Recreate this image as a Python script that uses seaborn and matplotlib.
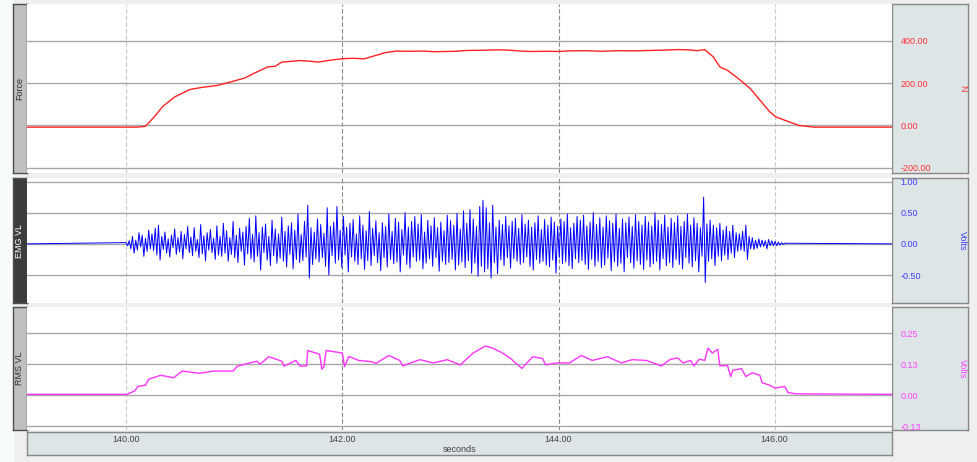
import numpy as np
import matplotlib
matplotlib.use("Agg")
import matplotlib.pyplot as plt
import seaborn as sns

sns.set_style("white")
plt.rcParams['font.family'] = ['Liberation Sans', 'DejaVu Sans']

# ---- data ----
X_MIN, X_MAX = 139.082, 147.084
x_ticks = [140, 142, 144, 146]
x_tick_labels = ["140.00", "142.00", "144.00", "146.00"]

# Force (N)
force_t = [139.082, 140.10, 140.18, 140.26, 140.34, 140.45, 140.59, 140.70, 140.84, 140.99,
           141.10, 141.18, 141.31, 141.38, 141.44, 141.52, 141.61, 141.70, 141.78, 141.88,
           142.00, 142.10, 142.20, 142.30, 142.40, 142.50, 142.60, 142.75, 142.85, 142.95,
           143.05, 143.15, 143.30, 143.45, 143.55, 143.65, 143.75, 143.90, 144.00, 144.10,
           144.25, 144.40, 144.55, 144.70, 144.85, 145.00, 145.10, 145.20, 145.28, 145.35,
           145.43, 145.49, 145.56, 145.68, 145.77, 145.86, 145.95, 146.01, 146.13, 146.22,
           146.36, 147.084]
force_n = [-8, -8, -4, 40, 90, 135, 170, 180, 189, 209,
           225, 246, 277, 280, 300, 303, 307, 304, 300, 308,
           316, 318, 315, 330, 345, 352, 351, 352, 349, 350,
           351, 355, 356, 358, 356, 352, 350, 351, 350, 353,
           354, 351, 354, 353, 355, 357, 359, 358, 354, 359,
           324, 277, 261, 214, 175, 120, 65, 40, 17, 0,
           -8, -8]
force_ticks = [400, 200, 0, -200]
force_tick_labels = ["400.00", "200.00", "0.00", "-200.00"]

# EMG VL (volts), sampled every 0.015 s from 140.00 s
EMG_START = 140.0
EMG_DT = 0.015
emg_v = [
    0.02, -0.03, 0.05, -0.08, 0.12, -0.15, 0.06, -0.10, 0.18, -0.05, 0.14, -0.20, 0.09, -0.12, 0.22, -0.08, 0.16, -0.11, 0.25, -0.18,
    0.30, -0.26, 0.12, -0.09, 0.19, -0.15, 0.08, -0.21, 0.14, -0.06, 0.24, -0.17, 0.10, -0.13, 0.20, -0.24, 0.15, -0.08, 0.28, -0.14,
    0.11, -0.19, 0.26, -0.12, 0.07, -0.22, 0.31, -0.16, 0.13, -0.27, 0.18, -0.10, 0.23, -0.14, 0.09, -0.25, 0.29, -0.18, 0.12, -0.20,
    0.33, -0.15, 0.21, -0.28, 0.10, -0.17, 0.36, -0.22, 0.14, -0.30, 0.25, -0.12, 0.19, -0.34, 0.28, -0.16, 0.41, -0.24, 0.15, -0.29,
    0.45, -0.20, 0.18, -0.42, 0.27, -0.14, 0.32, -0.26, 0.12, -0.35, 0.38, -0.19, 0.24, -0.31, 0.16, -0.23, 0.43, -0.28, 0.20, -0.37,
    0.29, -0.17, 0.34, -0.40, 0.22, -0.25, 0.48, -0.30, 0.15, -0.27, 0.36, -0.21, 0.62, -0.55, 0.26, -0.33, 0.19, -0.24, 0.40, -0.29,
    0.31, -0.22, 0.17, -0.36, 0.58, -0.50, 0.28, -0.19, 0.35, -0.31, 0.60, -0.26, 0.22, -0.38, 0.44, -0.18, 0.27, -0.45, 0.33, -0.21,
    0.39, -0.28, 0.16, -0.33, 0.45, -0.24, 0.30, -0.41, 0.21, -0.27, 0.52, -0.35, 0.25, -0.19, 0.37, -0.30, 0.18, -0.43, 0.34, -0.22,
    0.28, -0.37, 0.48, -0.25, 0.20, -0.32, 0.41, -0.29, 0.35, -0.45, 0.23, -0.18, 0.50, -0.33, 0.27, -0.39, 0.36, -0.21, 0.44, -0.28,
    0.32, -0.26, 0.47, -0.40, 0.19, -0.31, 0.38, -0.24, 0.29, -0.36, 0.42, -0.22, 0.26, -0.44, 0.35, -0.28, 0.21, -0.33, 0.46, -0.30,
    0.37, -0.25, 0.30, -0.42, 0.49, -0.34, 0.24, -0.29, 0.53, -0.38, 0.33, -0.27, 0.55, -0.47, 0.40, -0.31, 0.28, -0.52, 0.60, -0.36,
    0.70, -0.45, 0.58, -0.40, 0.34, -0.55, 0.62, -0.30, 0.27, -0.48, 0.38, -0.26, 0.31, -0.35, 0.44, -0.22, 0.29, -0.39, 0.36, -0.24,
    0.41, -0.28, 0.25, -0.33, 0.47, -0.30, 0.32, -0.21, 0.38, -0.36, 0.27, -0.42, 0.34, -0.25, 0.45, -0.31, 0.23, -0.28, 0.39, -0.34,
    0.30, -0.37, 0.43, -0.26, 0.35, -0.47, 0.28, -0.22, 0.40, -0.32, 0.36, -0.29, 0.48, -0.35, 0.26, -0.40, 0.33, -0.24, 0.44, -0.30,
    0.38, -0.27, 0.46, -0.33, 0.29, -0.41, 0.35, -0.25, 0.50, -0.36, 0.31, -0.28, 0.42, -0.38, 0.27, -0.34, 0.45, -0.23, 0.37, -0.43,
    0.33, -0.29, 0.48, -0.36, 0.25, -0.31, 0.40, -0.45, 0.34, -0.22, 0.43, -0.30, 0.28, -0.39, 0.47, -0.27, 0.36, -0.33, 0.30, -0.41,
    0.44, -0.26, 0.35, -0.37, 0.29, -0.32, 0.50, -0.28, 0.38, -0.42, 0.31, -0.24, 0.46, -0.35, 0.27, -0.30, 0.41, -0.38, 0.34, -0.25,
    0.45, -0.33, 0.28, -0.40, 0.36, -0.22, 0.48, -0.31, 0.30, -0.37, 0.42, -0.27, 0.33, -0.45, 0.26, -0.20, 0.75, -0.62, 0.32, -0.28,
    0.38, -0.24, 0.30, -0.35, 0.26, -0.20, 0.33, -0.27, 0.22, -0.18, 0.28, -0.25, 0.20, -0.15, 0.30, -0.22, 0.18, -0.12, 0.16, -0.10,
    0.20, -0.12, 0.30, -0.25, 0.12, -0.08, 0.10, -0.09, 0.06, -0.07, 0.08, -0.05, 0.06, -0.04, 0.05, -0.08, 0.07, -0.03, 0.05, -0.03,
    0.04, -0.03, 0.03, -0.02, 0.02, -0.01, 0.01,
]
emg_ticks = [1.0, 0.5, 0.0, -0.5]
emg_tick_labels = ["1.00", "0.50", "0.00", "-0.50"]

# RMS VL (volts)
rms_t = [139.082, 140.01, 140.08, 140.11, 140.18, 140.21, 140.32, 140.44, 140.52, 140.68,
         140.81, 140.99, 141.03, 141.21, 141.24, 141.32, 141.44, 141.46, 141.57, 141.61,
         141.67, 141.68, 141.79, 141.81, 141.83, 141.85, 142.00, 142.02, 142.06, 142.15,
         142.27, 142.31, 142.43, 142.53, 142.56, 142.63, 142.72, 142.84, 142.97, 143.09,
         143.21, 143.32, 143.39, 143.48, 143.55, 143.60, 143.66, 143.76, 143.85, 143.88,
         143.98, 144.10, 144.21, 144.31, 144.45, 144.58, 144.68, 144.81, 144.95, 145.03,
         145.10, 145.15, 145.22, 145.25, 145.30, 145.35, 145.38, 145.42, 145.47, 145.49,
         145.56, 145.59, 145.61, 145.69, 145.73, 145.79, 145.86, 145.88, 145.95, 146.00,
         146.09, 146.12, 146.20, 147.084]
rms_v = [0.003, 0.003, 0.017, 0.035, 0.040, 0.064, 0.080, 0.070, 0.097, 0.088,
         0.097, 0.097, 0.117, 0.137, 0.125, 0.155, 0.137, 0.117, 0.140, 0.117,
         0.118, 0.180, 0.165, 0.105, 0.115, 0.180, 0.170, 0.115, 0.156, 0.140,
         0.135, 0.128, 0.160, 0.140, 0.118, 0.130, 0.143, 0.130, 0.143, 0.122,
         0.170, 0.198, 0.190, 0.170, 0.150, 0.130, 0.108, 0.155, 0.148, 0.122,
         0.130, 0.130, 0.160, 0.140, 0.155, 0.130, 0.143, 0.140, 0.118, 0.144,
         0.150, 0.130, 0.140, 0.118, 0.145, 0.140, 0.190, 0.170, 0.185, 0.118,
         0.120, 0.075, 0.100, 0.107, 0.075, 0.090, 0.080, 0.050, 0.040, 0.028,
         0.035, 0.010, 0.005, 0.003]
rms_ticks = [0.25, 0.125, 0.0, -0.125]
rms_tick_labels = ["0.25", "0.13", "0.00", "-0.13"]

# ---- layout helpers (pixels of a 977x462 canvas) ----
W, H = 977, 462


def px_axes(fig, x0, y0, x1, y1, **kw):
    return fig.add_axes([x0 / W, 1 - y1 / H, (x1 - x0) / W, (y1 - y0) / H], **kw)


fig = plt.figure(figsize=(W / 100, H / 100), dpi=100, facecolor="#efefef")

strip = px_axes(fig, 0, 0, 13, H, facecolor="#f7fbfc")
strip.set_axis_off()
strip.patch.set_visible(True)
strip.axis("off")
fig.patches.append(plt.Rectangle((0, 0), 13 / W, 1, transform=fig.transFigure,
                                 color="#f7fbfc", zorder=-1))

PLOT_X0, PLOT_X1 = 26.7, 892.3
panels = [
    # name, y0, y1, label box colour, label text colour, series colour, unit
    ("Force", 4.0, 173.3, "#c0c0c0", "#303030", "#ff2222", "N"),
    ("EMG VL", 178.3, 302.7, "#3c3c3c", "#ffffff", "#0000ff", "Volts"),
    ("RMS VL", 306.7, 430.0, "#c0c0c0", "#303030", "#ff33ff", "Volts"),
]
ylims = [(-226.5, 574.8), (-0.944, 1.052), (-0.141, 0.357)]
yticks = [force_ticks, emg_ticks, rms_ticks]
ylabels = [force_tick_labels, emg_tick_labels, rms_tick_labels]
tick_cols = ["#ff3030", "#4040ff", "#ff40ff"]

emg_t = EMG_START + EMG_DT * np.arange(len(emg_v))
emg_full_t = np.concatenate([[X_MIN], emg_t, [X_MAX]])
emg_full_v = np.concatenate([[0.0], emg_v, [0.0]])
series = [
    (np.array(force_t), np.array(force_n), 1.0),
    (emg_full_t, emg_full_v, 0.7),
    (np.array(rms_t), np.array(rms_v), 1.0),
]

for i, (name, y0, y1, box_c, txt_c, col, unit) in enumerate(panels):
    # left label box
    lab = px_axes(fig, 13.3, y0, PLOT_X0, y1, facecolor=box_c)
    lab.set_xticks([])
    lab.set_yticks([])
    for s in lab.spines.values():
        s.set_color("#505050")
        s.set_linewidth(1.0)
    lab.text(0.5, 0.5, name, rotation=90, ha="center", va="center",
             color=txt_c, fontsize=6.5, transform=lab.transAxes)

    # right scale box
    rb = px_axes(fig, PLOT_X1, y0, 968.3, y1, facecolor="#dde5e7", zorder=0)
    rb.set_xticks([])
    rb.set_yticks([])
    for s in rb.spines.values():
        s.set_color("#888888")
        s.set_linewidth(1.0)

    # plot area
    ax = px_axes(fig, PLOT_X0, y0, PLOT_X1, y1, facecolor="white", zorder=2)
    t, v, lw = series[i]
    sns.lineplot(x=t, y=v, ax=ax, color=col, linewidth=lw,
                 estimator=None, sort=False, legend=False)
    ax.set_xlim(X_MIN, X_MAX)
    ax.set_ylim(*ylims[i])
    ax.set_xticks(x_ticks)
    ax.set_xticklabels([])
    ax.set_yticks(yticks[i])
    ax.set_yticklabels(ylabels[i])
    ax.yaxis.tick_right()
    ax.tick_params(axis="y", length=0, pad=6, labelsize=6.5, labelcolor=tick_cols[i])
    ax.tick_params(axis="x", length=0)
    ax.set_xlabel("")
    ax.set_ylabel("")
    for lbl in ax.get_yticklabels():
        lbl.set_horizontalalignment("left")
    ax.yaxis.grid(True, color="#a8a8a8", linewidth=1.0)
    ax.xaxis.grid(True, linestyle=(0, (4, 2)), linewidth=0.8)
    for gl, xt in zip(ax.get_xgridlines(), x_ticks):
        gl.set_color("#888888" if xt in (142, 144) else "#c8c8c8")
    ax.set_axisbelow(True)
    for s in ax.spines.values():
        s.set_visible(False)
    ax.text((962.3 - PLOT_X0) / (PLOT_X1 - PLOT_X0), 0.5, unit, rotation=270,
            ha="center", va="center", color=tick_cols[i], fontsize=6.5,
            transform=ax.transAxes)

# bottom time axis box
xa = px_axes(fig, PLOT_X0, 431.7, 891.7, 455.0, facecolor="#dde5e7")
xa.set_xlim(X_MIN, X_MAX)
xa.set_ylim(0, 1)
xa.set_yticks([])
xa.set_xticks(x_ticks)
xa.set_xticklabels(x_tick_labels)
xa.xaxis.tick_top()
xa.tick_params(axis="x", length=0, pad=-9, labelsize=6.5, labelcolor="#404040")
for s in xa.spines.values():
    s.set_color("#888888")
    s.set_linewidth(1.0)
xa.text(0.5, 0.22, "seconds", ha="center", va="center", fontsize=6.5,
        color="#404040", transform=xa.transAxes)

fig.savefig("out.png", dpi=100, facecolor=fig.get_facecolor())
